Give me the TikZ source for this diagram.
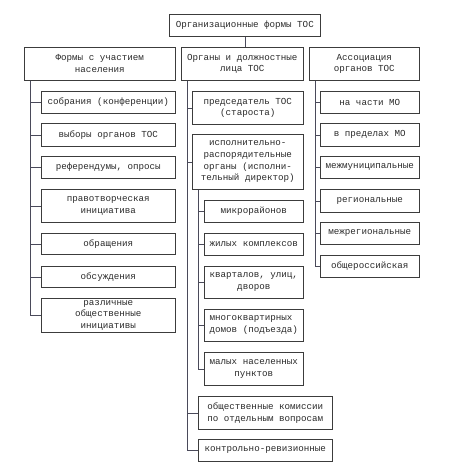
\documentclass[tikz,border=0pt]{standalone}
\usepackage{fontspec}
\setmonofont{Liberation Mono}
\usepackage{tikz}
\usetikzlibrary{positioning}
\definecolor{frame}{HTML}{3C3C3C}
\definecolor{wire}{HTML}{4A4A5A}
\definecolor{txt}{HTML}{2A2A2A}

\begin{document}
\begin{tikzpicture}[x=1pt,y=-1pt,
  box/.style={draw=frame,line width=0.6pt,anchor=north west,inner sep=1.5pt,
              align=center,text=txt,font=\ttfamily\fontsize{9.2}{11.7}\selectfont},
  ln/.style={draw=wire,line width=0.6pt}
]
\useasboundingbox (0,0) rectangle (470,472);
% top level
\node[box,minimum width=151pt,minimum height=22pt] (top) at (169,14) {Организационные формы ТОС};
\node[box,minimum width=151pt,minimum height=33pt] (lft) at (24,47) {Формы с участием\\населения};
\node[box,minimum width=122pt,minimum height=33pt] (mid) at (181,47) {Органы и должностные\\лица ТОС};
\node[box,minimum width=110pt,minimum height=33pt] (rgt) at (309,47) {Ассоциация\\органов ТОС};
\draw[ln] (top.south) -- (top.south |- mid.north);

% forms with participation
\node[box,minimum width=134pt,minimum height=22pt] (la) at (41,91)  {собрания (конференции)};
\node[box,minimum width=134pt,minimum height=23pt] (lb) at (41,123) {выборы органов ТОС};
\node[box,minimum width=134pt,minimum height=22pt] (lc) at (41,156) {референдумы, опросы};
\node[box,minimum width=134pt,minimum height=33pt] (ld) at (41,189) {правотворческая\\инициатива};
\node[box,minimum width=134pt,minimum height=21pt] (le) at (41,233) {обращения};
\node[box,minimum width=134pt,minimum height=21pt] (lf) at (41,266) {обсуждения};
\node[box,minimum width=134pt,minimum height=34pt] (lg) at (41,298) {различные\\общественные\\инициативы};
\foreach \c in {la,lb,lc,ld,le,lf,lg}
  \draw[ln] ([xshift=6pt]lft.south west) |- (\c.west);

% bodies and officials
\node[box,minimum width=111pt,minimum height=33pt] (ma) at (192,91)  {председатель ТОС\\(староста)};
\node[box,minimum width=111pt,minimum height=55pt] (mb) at (192,134) {исполнительно-\\распорядительные\\органы (исполни-\\тельный директор)};
\node[box,minimum width=99pt,minimum height=22pt] (sa) at (204,200) {микрорайонов};
\node[box,minimum width=99pt,minimum height=22pt] (sb) at (204,233) {жилых комплексов};
\node[box,minimum width=99pt,minimum height=32pt] (sc) at (204,266) {кварталов, улиц,\\дворов};
\node[box,minimum width=99pt,minimum height=32pt,align=left] (sd) at (204,309) {многоквартирных\\домов (подъезда)};
\node[box,minimum width=99pt,minimum height=33pt] (se) at (204,352) {малых населенных\\пунктов};
\node[box,minimum width=134pt,minimum height=33pt,align=left] (mc) at (198,396) {общественные комиссии\\по отдельным вопросам};
\node[box,minimum width=134pt,minimum height=22pt,align=left] (md) at (198,439) {контрольно-ревизионные};
\foreach \c in {ma,mb,mc,md}
  \draw[ln] ([xshift=6pt]mid.south west) |- (\c.west);
\foreach \c in {sa,sb,sc,sd,se}
  \draw[ln] ([xshift=6pt]mb.south west) |- (\c.west);

% association
\node[box,minimum width=99pt,minimum height=22pt] (ra) at (320,91)  {на части МО};
\node[box,minimum width=99pt,minimum height=23pt] (rb) at (320,123) {в пределах МО};
\node[box,minimum width=99pt,minimum height=22pt] (rc) at (320,156) {межмуниципальные};
\node[box,minimum width=99pt,minimum height=23pt] (rd) at (320,189) {региональные};
\node[box,minimum width=99pt,minimum height=22pt] (re) at (320,222) {межрегиональные};
\node[box,minimum width=99pt,minimum height=22pt] (rf) at (320,255) {общероссийская};
\foreach \c in {ra,rb,rc,rd,re,rf}
  \draw[ln] ([xshift=6pt]rgt.south west) |- (\c.west);
\end{tikzpicture}
\end{document}
